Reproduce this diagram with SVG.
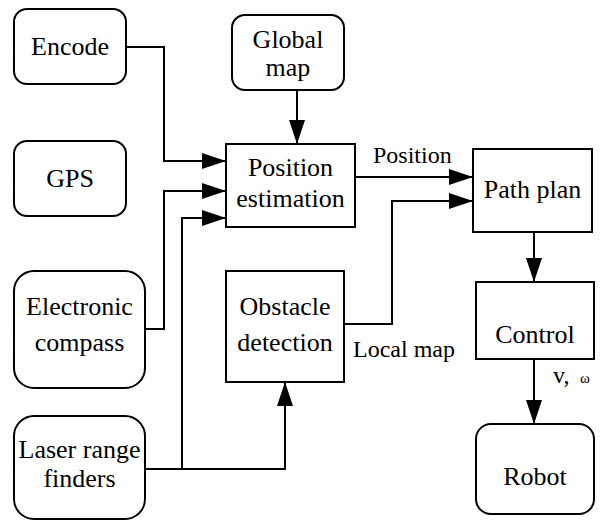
<svg xmlns="http://www.w3.org/2000/svg" width="602" height="521" viewBox="0 0 602 521">
<style>
.box{fill:#fff;stroke:#000;stroke-width:2}
.t{font-family:'Liberation Serif','Times New Roman',Times,'DejaVu Serif',serif;font-size:26px;fill:#000;text-anchor:middle}
.lbl{font-family:'Liberation Serif','Times New Roman',Times,'DejaVu Serif',serif;font-size:24px;fill:#000}
.c{fill:none;stroke:#000;stroke-width:2}
</style>
<defs>
<marker id="ah" markerUnits="userSpaceOnUse" markerWidth="24" markerHeight="16" refX="24" refY="8" orient="auto">
<path d="M0,0 L24,8 L0,16 z" fill="#000"/>
</marker>
</defs>
<rect width="602" height="521" fill="#fff"/>
<g id="connectors">
<path class="c" d="M126,47 H164 V161 H226" marker-end="url(#ah)"/>
<path class="c" d="M145,329 H164 V191 H226" marker-end="url(#ah)"/>
<path class="c" d="M145,469 H285 V382" marker-end="url(#ah)"/>
<path class="c" d="M182,469 V218 H226" marker-end="url(#ah)"/>
<path class="c" d="M297,90 V144" marker-end="url(#ah)"/>
<path class="c" d="M355,177 H473" marker-end="url(#ah)"/>
<path class="c" d="M344,324 H392 V201 H473" marker-end="url(#ah)"/>
<path class="c" d="M534,232 V282" marker-end="url(#ah)"/>
<path class="c" d="M534,359 V424" marker-end="url(#ah)"/>
<text class="lbl" x="373" y="163">Position</text>
<text class="lbl" x="353" y="357">Local map</text>
<text class="lbl" x="553" y="383">v,</text>
<text class="lbl" x="580" y="383" style="font-size:15px">ω</text>
</g>
<g id="encode">
<rect class="box" x="14" y="9" width="112" height="75" rx="13"/>
<text class="t" x="70" y="55">Encode</text>
</g>
<g id="gps">
<rect class="box" x="14" y="141" width="112" height="75" rx="13"/>
<text class="t" x="70" y="187">GPS</text>
</g>
<g id="compass">
<rect class="box" x="14" y="271" width="131" height="117" rx="20"/>
<text class="t" x="79.5" y="315">Electronic</text>
<text class="t" x="79.5" y="351">compass</text>
</g>
<g id="laser">
<rect class="box" x="14" y="416" width="131" height="103" rx="20"/>
<text class="t" x="79.5" y="458">Laser range</text>
<text class="t" x="79.5" y="487">finders</text>
</g>
<g id="globalmap">
<rect class="box" x="232" y="15" width="112" height="75" rx="13"/>
<text class="t" x="288" y="48">Global</text>
<text class="t" x="288" y="76">map</text>
</g>
<g id="position">
<rect class="box" x="226" y="144" width="129" height="83"/>
<text class="t" x="290.5" y="176">Position</text>
<text class="t" x="290.5" y="207">estimation</text>
</g>
<g id="obstacle">
<rect class="box" x="226" y="271" width="118" height="111"/>
<text class="t" x="285" y="315">Obstacle</text>
<text class="t" x="285" y="351">detection</text>
</g>
<g id="pathplan">
<rect class="box" x="473" y="149" width="119" height="83"/>
<text class="t" x="532.5" y="198">Path plan</text>
</g>
<g id="control">
<rect class="box" x="476" y="282" width="118" height="77"/>
<text class="t" x="535" y="343">Control</text>
</g>
<g id="robot">
<rect class="box" x="476" y="424" width="118" height="90" rx="15"/>
<text class="t" x="535" y="485">Robot</text>
</g>
</svg>
